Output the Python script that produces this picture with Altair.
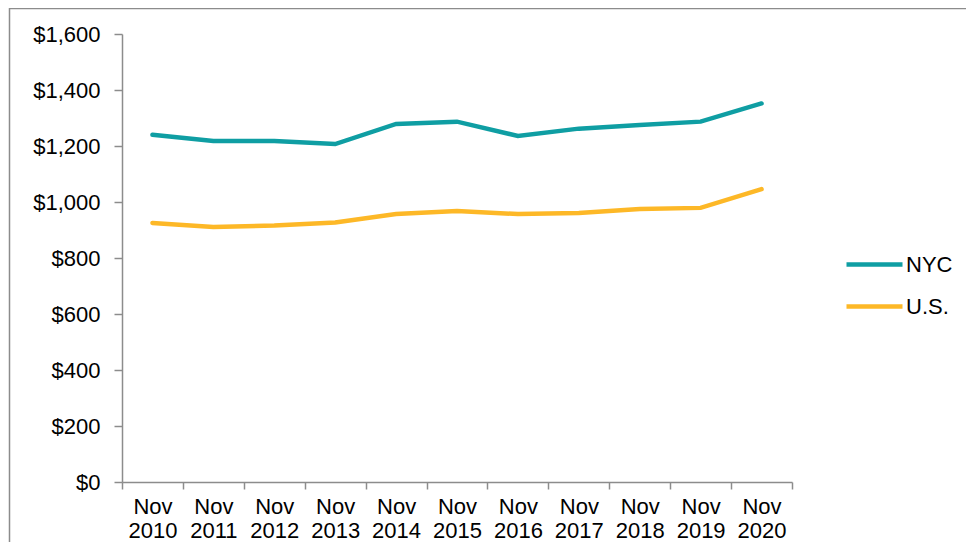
import altair as alt
import pandas as pd

years = ["Nov 2010", "Nov 2011", "Nov 2012", "Nov 2013", "Nov 2014", "Nov 2015",
         "Nov 2016", "Nov 2017", "Nov 2018", "Nov 2019", "Nov 2020"]
nyc = [1240, 1218, 1218, 1207, 1279, 1287, 1236, 1262, 1275, 1287, 1352]
us = [925, 911, 916, 927, 957, 968, 957, 961, 975, 979, 1046]
series = ["NYC", "U.S."]
colors = ["#0f9ea3", "#fdb827"]

rows = []
for i, y in enumerate(years):
    rows.append({"period": y, "series": "NYC", "value": nyc[i], "order": i})
    rows.append({"period": y, "series": "U.S.", "value": us[i], "order": i})
df = pd.DataFrame(rows)

W, H = 670, 448
PL, PT, PR, PB = 114, 26, 174, 60
FONT = "Liberation Sans"
FS = 22

border = alt.Chart(pd.DataFrame({"a": [0]})).mark_rect(
    filled=False, stroke="#8c8c8c", strokeWidth=1.5
).encode(
    x=alt.value(-PL + 1.5), x2=alt.value(W + PR + 20),
    y=alt.value(-PT + 0.5), y2=alt.value(H + PB + 20),
)

lines = alt.Chart(df).mark_line(strokeWidth=4.5, strokeCap="round").encode(
    x=alt.X("period:N", sort=years, title=None,
            scale=alt.Scale(paddingInner=0, paddingOuter=0),
            axis=alt.Axis(labelAngle=0, labelExpr="split(datum.label, ' ')",
                          labelLineHeight=24, labelFontSize=FS, labelPadding=7,
                          tickBand="extent", tickSize=7, tickColor="#8c8c8c",
                          domainColor="#8c8c8c", domainWidth=1.5, tickWidth=1.5,
                          labelColor="black", labelFont=FONT, zindex=1)),
    y=alt.Y("value:Q", title=None,
            scale=alt.Scale(domain=[0, 1600], nice=False),
            axis=alt.Axis(values=[0, 200, 400, 600, 800, 1000, 1200, 1400, 1600],
                          format="$,.0f", grid=False, tickSize=8, tickColor="#8c8c8c",
                          domainColor="#8c8c8c", domainWidth=1.5, tickWidth=1.5,
                          labelFontSize=FS, labelPadding=14, labelColor="black",
                          labelFont=FONT, zindex=1)),
    color=alt.Color("series:N", scale=alt.Scale(domain=series, range=colors),
                    legend=alt.Legend(title=None, orient="none", legendX=722, legendY=200,
                                      symbolType="stroke", symbolSize=3136,
                                      symbolStrokeWidth=4.5, labelFontSize=FS,
                                      labelFont=FONT, labelColor="black",
                                      rowPadding=-20, labelOffset=1)),
    order="order:Q",
)

chart = alt.layer(border, lines).properties(
    width=W, height=H,
    autosize=alt.AutoSizeParams(type="none"),
    padding={"left": PL, "top": PT, "right": PR, "bottom": PB},
).configure(font=FONT, background="white").configure_view(strokeWidth=0, stroke="transparent")

chart.save("out.html", embed_options={"renderer": "svg", "actions": False})
